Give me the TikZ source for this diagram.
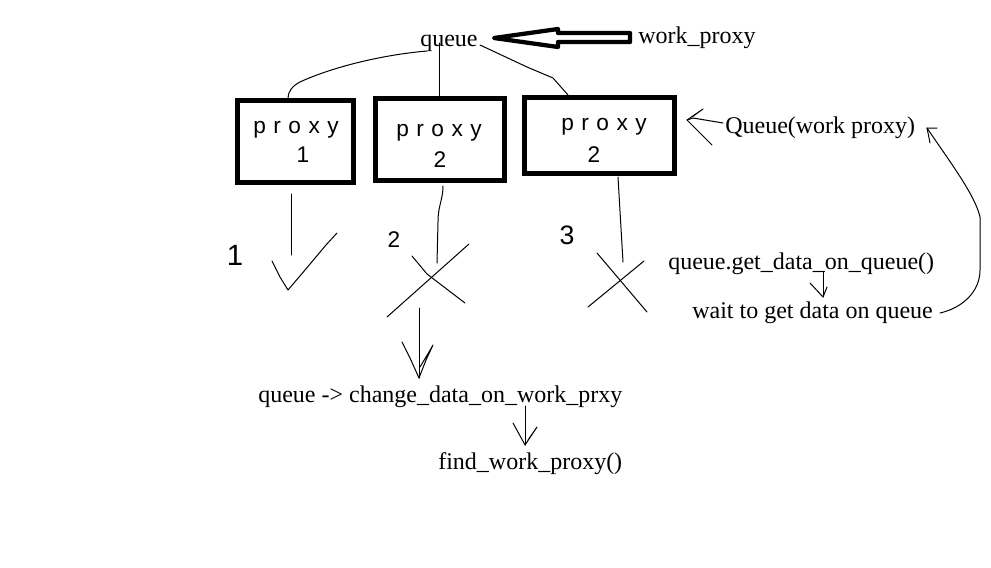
\documentclass[tikz,border=0pt]{standalone}
\usepackage{fontspec}
\setmainfont{Liberation Serif}
\newfontfamily\handfont[LetterSpace=33]{Liberation Sans}
\newfontfamily\handnum{Liberation Sans}
\begin{document}
\begin{tikzpicture}[x=0.75pt,y=-0.75pt,
  txt/.style={inner sep=0pt,anchor=base west,font=\fontsize{18}{20}\selectfont},
  pbox/.style={draw,line width=3.75pt,inner sep=0pt},
  hand/.style={inner sep=0pt,font=\handfont\fontsize{17}{18}\selectfont},
  handn/.style={inner sep=0pt,font=\handnum\fontsize{17}{18}\selectfont},
  stroke/.style={line width=0.75pt,line cap=round,line join=round},
  bigarrow/.style={line width=3.2pt,line join=round}]
\useasboundingbox (0,0) rectangle (991,567);
% texts
\node[txt] (queue) at (420,46) {queue};
\node[txt] (wp) at (638,44) {work\_proxy};
\node[txt] (qwp) at (725,133) {Queue(work proxy)};
\node[txt] (get) at (668,269) {queue.get\_data\_on\_queue()};
\node[txt] (wait) at (692,318) {wait to get data on queue};
\node[txt] (change) at (258,402) {queue -> change\_data\_on\_work\_prxy};
\node[txt] (find) at (438,469) {find\_work\_proxy()};
% boxes
\node[pbox,minimum width=87pt,minimum height=61.5pt] (box1) at (295.5,141.5) {};
\node[pbox,minimum width=96.75pt,minimum height=61.5pt] (box2) at (440,139.5) {};
\node[pbox,minimum width=112.5pt,minimum height=57pt] (box3) at (599.5,135.5) {};
\node[hand] (p1) at (296,130) {proxy};
\node[handn] (n1) at (303,155) {1};
\node[hand] (p2) at (439,133) {proxy};
\node[handn] (n2) at (440,160) {2};
\node[hand] (p3) at (604,127) {proxy};
\node[handn] (n3) at (594,155) {2};
% outside numbers
\node[handn,font=\handnum\fontsize{22}{24}\selectfont] (o1) at (235,255) {1};
\node[handn,font=\handnum\fontsize{17}{18}\selectfont] (o2) at (394,240) {2};
\node[handn,font=\handnum\fontsize{20}{22}\selectfont] (o3) at (567,235) {3};
% coordinates
\coordinate (qa) at (427,51);
\coordinate (qb) at (439,43);
\coordinate (qc) at (480,45);
\coordinate (b1t) at (288,98);
\coordinate (b2t) at (439,96);
\coordinate (b3t) at (568,95);
% queue to boxes
\draw[stroke] (qa) .. controls (380,55) and (330,68) .. (300,82) .. controls (292,86) and (288,92) .. (b1t);
\draw[stroke] (qb) -- (b2t);
\draw[stroke] (qc) -- (527,67) -- (553,78) -- (b3t);
% hollow arrow from work_proxy to queue
\coordinate (tip) at (494,38);
\draw[bigarrow] (tip) -- (558,29) -- (558,33) -- (630,33) -- (630,42) -- (558,42) -- (558,47) -- cycle;
% below box1
\coordinate (l1a) at (291,194);
\coordinate (l1b) at (291,255);
\draw[stroke] (l1a) -- (l1b);
\coordinate (c1) at (272,261);
\coordinate (c2) at (288,290);
\coordinate (c3) at (337,233);
\draw[stroke] (c1) -- (280,277) -- (c2) -- (305,270) -- (326,245) -- (c3);
% below box2
\coordinate (l2a) at (443,186);
\coordinate (l2b) at (437,263);
\draw[stroke] (l2a) .. controls (443,200) and (438,205) .. (438,222) -- (l2b);
\coordinate (x1a) at (412,256);
\coordinate (x1b) at (465,303);
\coordinate (x1c) at (469,244);
\coordinate (x1d) at (387,317);
\draw[stroke] (x1a) -- (427,274) -- (x1b);
\draw[stroke] (x1c) -- (x1d);
% below box3
\coordinate (l3a) at (618,177);
\coordinate (l3b) at (623,262);
\draw[stroke] (l3a) -- (l3b);
\coordinate (x2a) at (597,253);
\coordinate (x2b) at (647,312);
\coordinate (x2c) at (644,261);
\coordinate (x2d) at (588,307);
\draw[stroke] (x2a) -- (x2b);
\draw[stroke] (x2c) -- (x2d);
% arrow down to change
\coordinate (a1s) at (419,308);
\coordinate (a1t) at (419,378);
\draw[stroke] (a1s) -- (a1t);
\draw[stroke] (402,342) -- (410,358) -- (a1t) -- (426,360) -- (433,345) -- (429,352) -- (420,367);
% arrow down to find
\coordinate (a2s) at (525,406);
\coordinate (a2t) at (525,445);
\draw[stroke] (a2s) -- (a2t);
\draw[stroke] (513,423) -- (a2t) -- (537,427) -- (528,440);
% arrow from Queue(work proxy) to box3
\coordinate (a3s) at (723,123);
\coordinate (a3t) at (687,120);
\draw[stroke] (a3s) -- (693,118) -- (a3t);
\draw[stroke] (712,145) -- (a3t) -- (703,109) -- (692,117);
% small arrow get -> wait
\coordinate (a4s) at (823,272);
\coordinate (a4t) at (823,297);
\draw[stroke] (a4s) -- (a4t);
\draw[stroke] (810,283) -- (a4t) -- (827,287);
% loop back curve
\coordinate (a5s) at (940,313);
\coordinate (a5t) at (927,128);
\draw[stroke] (a5s) .. controls (962,308) and (980,292) .. (980,270) -- (980,217) .. controls (975,195) and (950,162) .. (a5t);
\draw[stroke] (937,128) -- (a5t) -- (930,143);
\end{tikzpicture}
\end{document}
